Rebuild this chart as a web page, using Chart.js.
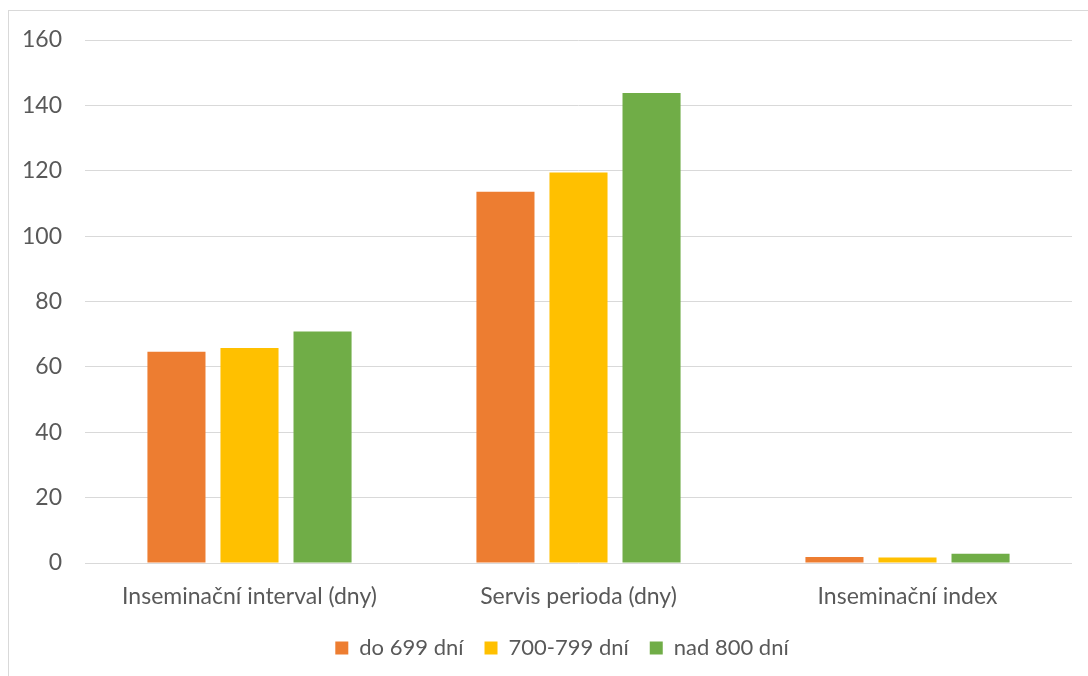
<!DOCTYPE html>
<html>
<head>
<meta charset="utf-8">
<script src="https://cdn.jsdelivr.net/npm/chart.js@4"></script>
<style>
  html, body { margin: 0; padding: 0; background: #ffffff; }
  #wrap { position: relative; width: 1088px; height: 676px; overflow: hidden; }
  #frame { position: absolute; left: 8px; top: 10px; width: 1200px; height: 800px; border: 1px solid #d9d9d9; box-sizing: border-box; pointer-events: none; }
  canvas { position: absolute; left: 0; top: 0; }
</style>
</head>
<body>
<div id="wrap">
  <div id="frame"></div>
  <canvas id="c" width="1088" height="676"></canvas>
</div>
<script>
const categories = ["Inseminační interval (dny)", "Servis perioda (dny)", "Inseminační index"];
const seriesNames = ["do 699 dní", "700-799 dní", "nad 800 dní"];
const series1 = [64.6, 113.6, 1.8];
const series2 = [65.8, 119.5, 1.7];
const series3 = [70.8, 143.8, 2.8];
const colors = ["#ED7D31", "#FFC000", "#70AD47"];
const yMin = 0, yMax = 160, yStep = 20;

const FONT = "Lato, 'Liberation Sans', sans-serif";
const TEXT = "#595959";
const LEGEND_SHIFT = 26;

const legendShift = {
  id: 'legendShift',
  afterLayout(chart) {
    if (chart.legend) { chart.legend.left += LEGEND_SHIFT; chart.legend.right += LEGEND_SHIFT; }
  }
};

new Chart(document.getElementById('c'), {
  type: 'bar',
  data: {
    labels: categories,
    datasets: [series1, series2, series3].map((d, i) => ({
      label: seriesNames[i],
      data: d,
      backgroundColor: colors[i],
      borderWidth: 0,
      categoryPercentage: 0.666,
      barPercentage: 0.795
    }))
  },
  plugins: [legendShift],
  options: {
    responsive: false,
    animation: false,
    devicePixelRatio: 1,
    layout: { padding: { top: 40, right: 16, bottom: 7, left: 0 } },
    plugins: {
      tooltip: { enabled: false },
      legend: {
        position: 'bottom',
        labels: {
          color: TEXT,
          font: { family: FONT, size: 22 },
          boxWidth: 13,
          boxHeight: 13,
          padding: 21
        }
      }
    },
    scales: {
      x: {
        afterFit: (s) => { s.height = 53; },
        grid: { display: false, drawTicks: false },
        border: { display: false },
        ticks: { color: TEXT, font: { family: FONT, size: 23 }, padding: 20, maxRotation: 0 }
      },
      y: {
        min: yMin, max: yMax,
        afterFit: (s) => { s.width = 85; },
        grid: { color: '#d9d9d9', lineWidth: 1, drawTicks: false },
        border: { display: false },
        ticks: { stepSize: yStep, color: TEXT, font: { family: FONT, size: 23 }, padding: 23 }
      }
    }
  }
});
</script>
</body>
</html>
